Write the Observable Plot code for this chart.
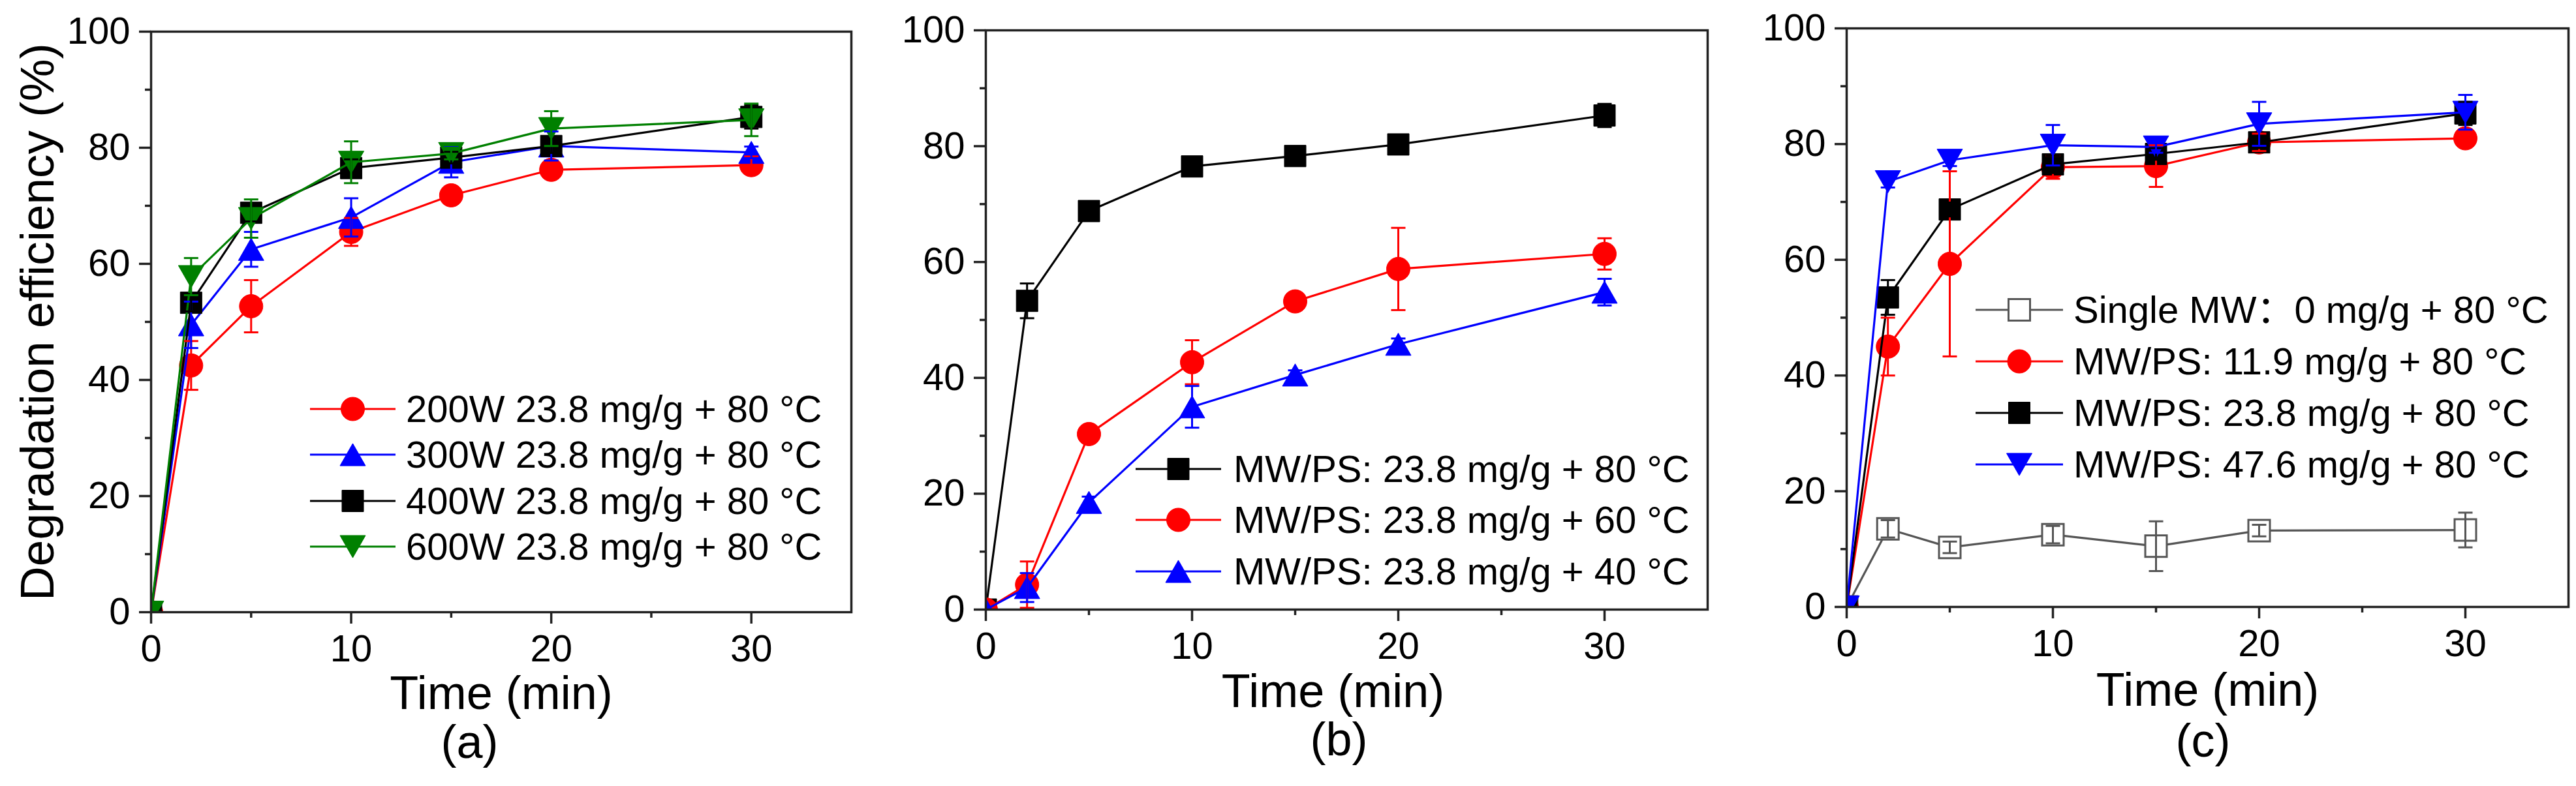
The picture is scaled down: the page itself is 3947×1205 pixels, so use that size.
<!DOCTYPE html>
<html>
<head>
<meta charset="utf-8">
<script src="https://cdn.jsdelivr.net/npm/d3@7"></script>
<script src="https://cdn.jsdelivr.net/npm/@observablehq/plot@0.6"></script>
<style>
  body { margin: 0; background: #fff; }
  #root { position: relative; width: 3947px; height: 1205px; font-family: "Liberation Sans", Arial, sans-serif; background: #fff; }
  .panel { position: absolute; top: 0; }
  .leg { position: absolute; display: flex; align-items: center; height: 60px; font-size: 58px; line-height: 1; white-space: nowrap; color: #000; font-family: "Liberation Sans", Arial, "Noto Sans CJK SC", sans-serif; }
  .leg svg { overflow: visible; }
</style>
</head>
<body>
<div id="root"></div>
<script>
// ---------- shared axes ----------
const times = [0, 2, 5, 10, 15, 20, 30];
const yMajor = [0, 20, 40, 60, 80, 100];
const yMinor = [10, 30, 50, 70, 90];
const xMajor = [0, 10, 20, 30];
const xMinor = [5, 15, 25];

// ---------- panel (a): microwave power ----------
const aNames = ["200W 23.8 mg/g + 80 °C", "300W 23.8 mg/g + 80 °C", "400W 23.8 mg/g + 80 °C", "600W 23.8 mg/g + 80 °C"];
const a200 = [0, 42.5, 52.7, 65.5, 71.8, 76.2, 77.0];
const a200Err = [0, 4.2, 4.5, 2.4, 1.0, 1.0, 1.5];
const a300 = [0, 49.5, 62.5, 68.0, 77.5, 80.3, 79.2];
const a300Err = [0, 4.0, 3.0, 3.3, 2.6, 2.5, 1.0];
const a400 = [0, 53.3, 68.8, 76.5, 78.3, 80.3, 85.3];
const a400Err = [0, 1.5, 1.5, 1.5, 1.0, 1.2, 2.0];
const a600 = [0, 57.8, 67.8, 77.5, 79.0, 83.3, 84.8];
const a600Err = [0, 3.2, 3.3, 3.6, 1.0, 3.0, 2.8];

// ---------- panel (b): temperature ----------
const bNames = ["MW/PS: 23.8 mg/g + 80 °C", "MW/PS: 23.8 mg/g + 60 °C", "MW/PS: 23.8 mg/g + 40 °C"];
const b80 = [0, 53.3, 68.8, 76.5, 78.3, 80.3, 85.3];
const b80Err = [0, 3.0, 1.0, 1.0, 1.0, 1.0, 2.0];
const b60 = [0, 4.3, 30.3, 42.7, 53.2, 58.8, 61.4];
const b60Err = [0, 4.0, 1.0, 3.8, 1.0, 7.1, 2.7];
const b40 = [0, 3.8, 18.5, 35.0, 40.5, 45.8, 54.8];
const b40Err = [0, 2.5, 1.0, 3.6, 0.8, 1.0, 2.3];

// ---------- panel (c): PS dosage ----------
const cNames = ["Single MW：0 mg/g + 80 °C", "MW/PS: 11.9 mg/g + 80 °C", "MW/PS: 23.8 mg/g + 80 °C", "MW/PS: 47.6 mg/g + 80 °C"];
const cSingle = [0, 13.5, 10.3, 12.5, 10.5, 13.2, 13.3];
const cSingleErr = [0, 1.5, 1.0, 1.5, 4.3, 1.0, 3.0];
const c119 = [0, 45.0, 59.3, 76.0, 76.2, 80.3, 81.0];
const c119Err = [0, 5.0, 16.0, 2.0, 3.6, 1.5, 0.8];
const c238 = [0, 53.5, 68.7, 76.5, 78.3, 80.3, 85.3];
const c238Err = [0, 3.0, 1.2, 1.5, 1.0, 1.0, 2.0];
const c476 = [0, 73.5, 77.2, 79.8, 79.5, 83.5, 85.5];
const c476Err = [0, 1.0, 1.0, 3.5, 1.0, 3.8, 3.0];

// ---------- symbols ----------
const rad = size => Math.sqrt(size / Math.PI);
const symCircle = { draw(ctx, size) { const r = rad(size); ctx.moveTo(r, 0); ctx.arc(0, 0, r, 0, 2 * Math.PI); ctx.closePath(); } };
const symSquare = { draw(ctx, size) { const r = rad(size); ctx.rect(-r, -r, 2 * r, 2 * r); } };
const symUp = { draw(ctx, size) { const s = rad(size), h = 1.75 * s; ctx.moveTo(0, -h / 2); ctx.lineTo(s, h / 2); ctx.lineTo(-s, h / 2); ctx.closePath(); } };
const symDown = { draw(ctx, size) { const s = rad(size), h = 1.75 * s; ctx.moveTo(0, h / 2); ctx.lineTo(s, -h / 2); ctx.lineTo(-s, -h / 2); ctx.closePath(); } };
const symCap = { draw(ctx, size) { const r = rad(size); ctx.moveTo(-r, 0); ctx.lineTo(r, 0); } };

const RED = "#ff0000", BLUE = "#0000ff", BLACK = "#000000", GREEN = "#008000", GRAY = "#555555";
const shape = {
  circle: { sym: symCircle, r: 18 },
  square: { sym: symSquare, r: 16.5 },
  up: { sym: symUp, r: 19.5 },
  down: { sym: symDown, r: 19.5 }
};

function mkSeries(name, values, errs, color, kind, open = false) {
  return { name, values, errs, color, kind, open };
}

const panels = [
  {
    id: "a", left: 0, width: 1320, mL: 231, mR: 16, mT: 48, mB: 267,
    series: [
      mkSeries(aNames[0], a200, a200Err, RED, "circle"),
      mkSeries(aNames[1], a300, a300Err, BLUE, "up"),
      mkSeries(aNames[2], a400, a400Err, BLACK, "square"),
      mkSeries(aNames[3], a600, a600Err, GREEN, "down")
    ],
    timeY: 1063, tagX: 719, tagY: 1138, ylabel: true,
    legend: { x: 475, lineW: 131, textGap: 16, rows: [627, 697, 768, 838] }
  },
  {
    id: "b", left: 1320, width: 1320, mL: 190, mR: 24, mT: 46, mB: 271,
    series: [
      mkSeries(bNames[0], b80, b80Err, BLACK, "square"),
      mkSeries(bNames[1], b60, b60Err, RED, "circle"),
      mkSeries(bNames[2], b40, b40Err, BLUE, "up")
    ],
    timeY: 1060, timeX: 2042, tagX: 2051, tagY: 1134, ylabel: false,
    legend: { x: 1740, lineW: 131, textGap: 19, rows: [719, 797, 876] }
  },
  {
    id: "c", left: 2640, width: 1307, mL: 189, mR: 12, mT: 43, mB: 275,
    series: [
      mkSeries(cNames[0], cSingle, cSingleErr, GRAY, "square", true),
      mkSeries(cNames[1], c119, c119Err, RED, "circle"),
      mkSeries(cNames[2], c238, c238Err, BLACK, "square"),
      mkSeries(cNames[3], c476, c476Err, BLUE, "down")
    ],
    timeY: 1058, tagX: 3375, tagY: 1136, ylabel: false,
    legend: { x: 3027, lineW: 134, textGap: 16, rows: [475, 554, 633, 712] }
  }
];

const root = document.getElementById("root");
const H = 1205;

for (const p of panels) {
  const dataMarks = [];
  const errMarks = [];
  for (const s of p.series) {
    const rows = times.map((t, i) => ({ t, v: s.values[i], e: s.errs[i] }));
    const eb = rows.filter(d => d.e > 0);
    const sh = shape[s.kind];
    dataMarks.push(
      Plot.line(rows, { x: "t", y: "v", stroke: s.color, strokeWidth: 3.2, clip: true }),
      Plot.dot(rows, { x: "t", y: "v", symbol: sh.sym, r: sh.r, fill: s.open ? "#fff" : s.color, stroke: s.color, strokeWidth: s.open ? 3 : 1, clip: true })
    );
    errMarks.push(
      Plot.ruleX(eb, { x: "t", y1: d => d.v - d.e, y2: d => d.v + d.e, stroke: s.color, strokeWidth: 3, clip: true }),
      Plot.dot(eb, { x: "t", y: d => d.v + d.e, symbol: symCap, r: 11, stroke: s.color, fill: "none", strokeWidth: 3, clip: true }),
      Plot.dot(eb, { x: "t", y: d => d.v - d.e, symbol: symCap, r: 11, stroke: s.color, fill: "none", strokeWidth: 3, clip: true })
    );
  }
  const frameL = p.left + p.mL, frameR = p.left + p.width - p.mR, frameB = H - p.mB;
  const frameC = (frameL + frameR) / 2;
  const timeX = p.timeX ?? frameC;
  const svg = Plot.plot({
    width: p.width, height: H,
    marginLeft: p.mL, marginRight: p.mR, marginTop: p.mT, marginBottom: p.mB,
    x: { domain: [0, 35] },
    y: { domain: [0, 100] },
    style: { fontFamily: "'Liberation Sans', Arial, sans-serif", color: "#000", background: "transparent", overflow: "visible" },
    marks: [
      Plot.axisY({ ticks: yMajor, tickSize: 18, tickPadding: 14, fontSize: 58, strokeWidth: 3.5, stroke: "#222", label: null, tickFormat: d => String(d) }),
      Plot.axisY({ ticks: yMinor, tickSize: 9, strokeWidth: 3.5, stroke: "#222", label: null, tickFormat: () => "" }),
      Plot.axisX({ ticks: xMajor, tickSize: 18, tickPadding: 16, fontSize: 58, strokeWidth: 3.5, stroke: "#222", label: null, tickFormat: d => String(d) }),
      Plot.axisX({ ticks: xMinor, tickSize: 9, strokeWidth: 3.5, stroke: "#222", label: null, tickFormat: () => "" }),
      ...dataMarks,
      ...errMarks,
      Plot.frame({ stroke: "#222", strokeWidth: 3.5 }),
      Plot.text(["Time (min)"], { text: d => d, frameAnchor: "bottom", textAnchor: "middle", lineAnchor: "middle", dx: timeX - frameC, dy: p.timeY - frameB, fontSize: 72, fill: "#000" }),
      Plot.text(["(" + p.id + ")"], { text: d => d, frameAnchor: "bottom", textAnchor: "middle", lineAnchor: "middle", dx: p.tagX - frameC, dy: p.tagY - frameB, fontSize: 72, fill: "#000" }),
      ...(p.ylabel ? [Plot.text(["Degradation efficiency (%)"], { text: d => d, frameAnchor: "left", textAnchor: "middle", lineAnchor: "middle", rotate: -90, dx: -173, fontSize: 73, fill: "#000" })] : [])
    ]
  });
  svg.classList.add("panel");
  svg.style.left = p.left + "px";
  root.appendChild(svg);

  // legend (HTML overlay)
  p.series.forEach((s, i) => {
    const row = document.createElement("div");
    row.className = "leg";
    row.style.left = p.legend.x + "px";
    row.style.top = (p.legend.rows[i] - 30) + "px";
    const w = p.legend.lineW, sh = shape[s.kind];
    const d = d3.symbol(sh.sym, sh.r * sh.r * Math.PI)();
    const sw = d3.create("svg").attr("width", w).attr("height", 60);
    sw.append("line").attr("x1", 0).attr("x2", w).attr("y1", 30).attr("y2", 30).attr("stroke", s.color).attr("stroke-width", 3.2);
    sw.append("path").attr("d", d).attr("transform", `translate(${w / 2},30)`)
      .attr("fill", s.open ? "#fff" : s.color).attr("stroke", s.color).attr("stroke-width", s.open ? 3 : 1);
    sw.style("margin-right", p.legend.textGap + "px");
    row.appendChild(sw.node());
    const span = document.createElement("span");
    span.textContent = s.name;
    row.appendChild(span);
    root.appendChild(row);
  });
}
</script>
</body>
</html>
